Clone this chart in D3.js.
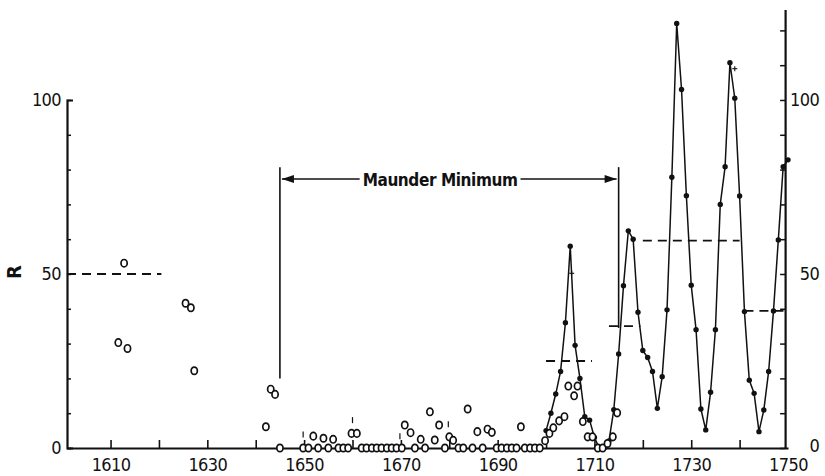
<!DOCTYPE html>
<html>
<head>
<meta charset="utf-8">
<script src="https://cdn.jsdelivr.net/npm/d3@7"></script>
<style>
  body { margin: 0; background: #fff; }
  svg text { font-family: "Liberation Sans Narrow", "DejaVu Sans Condensed", "Arial Narrow", sans-serif; fill: #111; }
  .axis path, .axis line { stroke: #111; }
  .axis text { letter-spacing: -0.6px; }
</style>
</head>
<body>
<svg id="chart"></svg>
<script>
// Sunspot number R, 1610-1750 (telescopic era, after Eddy 1976)

// scattered early observations (open circles)
const obsYears = [1611.6, 1612.8, 1613.5, 1625.5, 1626.6, 1627.3, 1642.1, 1643.1, 1644.0, 1645.0,
  1649.8, 1650.9, 1651.9, 1652.9, 1654.0, 1655.0, 1656.0, 1657.1, 1658.1, 1659.1, 1659.8, 1660.9,
  1661.9, 1662.9, 1664.0, 1665.0, 1666.0, 1667.1, 1668.1, 1669.1, 1670.2, 1670.8, 1672.0, 1672.9,
  1674.1, 1675.0, 1676.0, 1677.0, 1677.9, 1679.1, 1680.0, 1680.8, 1681.9, 1682.9, 1683.8, 1684.8,
  1685.8, 1686.9, 1687.9, 1688.8, 1689.8, 1690.8, 1691.9, 1692.9, 1693.9, 1694.8, 1695.6, 1696.7,
  1697.7, 1698.7,
  1699.8, 1700.7, 1701.5, 1702.7, 1703.8, 1704.6, 1705.8, 1706.5, 1707.6, 1708.6, 1709.6, 1710.7,
  1711.7, 1712.7, 1713.8, 1714.7];
const obsR = [30.3, 53.1, 28.6, 41.6, 40.3, 22.2, 6.1, 16.9, 15.4, 0,
  0, 0, 3.4, 0, 2.8, 0, 2.5, 0, 0, 0, 4.2, 4.2,
  0, 0, 0, 0, 0, 0, 0, 0, 0, 6.6, 4.4, 0,
  2.5, 0, 10.4, 2.3, 6.6, 0, 3.2, 2.2, 0, 0, 11.2, 0,
  4.7, 0, 5.4, 4.5, 0, 0, 0, 0, 0, 6.1, 0, 0,
  0, 0,
  2.1, 4.2, 5.8, 7.8, 9, 17.8, 15, 17.8, 7.6, 3.2, 3.2, 0,
  0, 1.3, 3.2, 10.1];

// annual means 1700-1750 (filled dots joined by a line)
const annualYears = [1700, 1701, 1702, 1703, 1704, 1705, 1706, 1707, 1708, 1709,
  1710, 1711, 1712, 1713, 1714, 1715, 1716, 1717, 1718, 1719,
  1720, 1721, 1722, 1723, 1724, 1725, 1726, 1727, 1728, 1729,
  1730, 1731, 1732, 1733, 1734, 1735, 1736, 1737, 1738, 1739,
  1740, 1741, 1742, 1743, 1744, 1745, 1746, 1747, 1748, 1749, 1750];
const annualR = [5, 10, 15.5, 22, 36, 58, 29.5, 20, 9, 8,
  3, 0, 0, 2, 11, 27, 46.6, 62.4, 60, 39,
  28, 26, 22, 11.4, 20.5, 39.7, 77.8, 122, 103, 72.5,
  46.8, 34, 11.2, 5.2, 16, 34, 70, 80.8, 110.7, 100.5,
  72.4, 39.2, 19.5, 15.7, 4.7, 10.9, 22, 39.4, 59.8, 80.8, 82.8];

// cycle means (dashed levels)
const meanStart = [1601, 1700, 1713, 1720, 1741];
const meanEnd   = [1620.5, 1709.5, 1719.5, 1740, 1750];
const meanR     = [50, 25, 35, 59.6, 39.4];

// little marks on the plot
const crossYears = [1705.3, 1739];
const crossR = [50.2, 109];
const barYears = [1649.8, 1660, 1669.8, 1679.8];
const barR = [3.9, 8, 3.4, 6.8];

// Maunder Minimum bracket
const maunderStart = 1645;
const maunderEnd = 1715;
const maunderTop = 80.7;
const maunderArrowR = 77.3;
const maunderLeftFoot = 20;
const maunderRightFoot = 34.5;
const maunderLabel = 'Maunder Minimum';

const xTickValues = [1610, 1620, 1630, 1640, 1650, 1660, 1670, 1680, 1690, 1700, 1710, 1720, 1730, 1740];
const xTickLabels = [1610, 1630, 1650, 1670, 1690, 1710, 1730, 1750];
const yTickLabels = [0, 50, 100];
const yMinorLeft = [0, 10, 20, 30, 40, 50, 60, 70, 80, 90, 100];
const yMinorRight = [0, 10, 20, 30, 40, 50, 60, 70, 80, 90, 100, 110, 120];

const config = {
  width: 825,
  height: 476,
  left: 67,
  right: 788,
  bottom: 448,
  top: 9.5,
  rightAxisYear: 1749.4
};

const svg = d3.select('#chart')
  .attr('width', config.width)
  .attr('height', config.height);

svg.append('rect')
  .attr('width', config.width)
  .attr('height', config.height)
  .attr('fill', '#fff');

const x = d3.scaleLinear().domain([1601, 1750]).range([config.left, config.right]);
const y = d3.scaleLinear().domain([0, 126]).range([config.bottom, config.top]);
const yLeft = d3.scaleLinear().domain([0, 100]).range([y(0), y(100)]);

// --- axes ---
const xAxisG = svg.append('g')
  .attr('class', 'axis')
  .attr('transform', `translate(0,${config.bottom})`)
  .call(d3.axisBottom(x)
    .tickValues(xTickValues.concat([1750]))
    .tickSize(-8)
    .tickSizeOuter(0)
    .tickPadding(10)
    .tickFormat(d => xTickLabels.includes(d) ? d : ''));
xAxisG.select('.domain').attr('stroke-width', 2.2);
xAxisG.selectAll('.tick line').attr('stroke-width', 1.6);
// 1750 tick sits on the right axis, no need for the little line
xAxisG.selectAll('.tick').filter(d => d === 1750).select('line').remove();
xAxisG.selectAll('text').style('font-size', '18px');

// left axis: ticks point inward, labels only at 0/50/100
const yAxisLeftG = svg.append('g')
  .attr('class', 'axis')
  .attr('transform', `translate(${config.left},0)`)
  .call(d3.axisLeft(yLeft)
    .tickValues(yMinorLeft)
    .tickSize(-4)
    .tickSizeOuter(-6)
    .tickPadding(6)
    .tickFormat(d => yTickLabels.includes(d) ? d : ''));
yAxisLeftG.select('.domain').attr('stroke-width', 2.2).attr('fill', 'none');
yAxisLeftG.selectAll('.tick line').attr('stroke-width', 1.5);
yAxisLeftG.selectAll('text').style('font-size', '18px');

// right axis goes higher than the left one
const xRight = x(config.rightAxisYear);
const yAxisRightG = svg.append('g')
  .attr('class', 'axis')
  .attr('transform', `translate(${xRight},0)`)
  .call(d3.axisRight(y)
    .tickValues(yMinorRight)
    .tickSize(-5)
    .tickSizeOuter(0)
    .tickFormat(d => yTickLabels.includes(d) ? d : ''));
yAxisRightG.select('.domain').attr('stroke-width', 2.2);
yAxisRightG.selectAll('.tick line').attr('stroke-width', 1.5);
yAxisRightG.selectAll('text')
  .attr('x', 34)
  .attr('dy', d => d === 0 ? '0.2em' : '0.32em')
  .attr('text-anchor', 'end')
  .style('font-size', '18px');

svg.append('text')
  .attr('transform', `translate(21,${y(50) - 2}) rotate(-90)`)
  .attr('text-anchor', 'middle')
  .style('font-size', '20px')
  .style('font-weight', 'bold')
  .text('R');

// --- cycle mean levels ---
svg.append('g').selectAll('line')
  .data(meanR)
  .join('line')
  .attr('x1', (d, i) => x(meanStart[i]))
  .attr('x2', (d, i) => x(meanEnd[i]))
  .attr('y1', d => y(d))
  .attr('y2', d => y(d))
  .attr('stroke', '#111')
  .attr('stroke-width', 1.8)
  .attr('stroke-dasharray', '9,6');

// --- Maunder Minimum bracket ---
const mm = svg.append('g').attr('stroke', '#111');
mm.append('line')
  .attr('x1', x(maunderStart)).attr('x2', x(maunderStart))
  .attr('y1', y(maunderTop)).attr('y2', y(maunderLeftFoot))
  .attr('stroke-width', 1.6);
mm.append('line')
  .attr('x1', x(maunderEnd)).attr('x2', x(maunderEnd))
  .attr('y1', y(maunderTop)).attr('y2', y(maunderRightFoot))
  .attr('stroke-width', 1.6);

const mmText = svg.append('text')
  .attr('x', x(1678.1))
  .attr('y', y(maunderArrowR) + 7)
  .attr('text-anchor', 'middle')
  .style('font-size', '17px')
  .style('letter-spacing', '-0.4px')
  .style('font-weight', 'bold')
  .text(maunderLabel);
const tb = mmText.node().getBBox();
const ay = y(maunderArrowR);
const ax1 = x(maunderStart) + 2;
const ax2 = x(maunderEnd) - 2;
mm.append('line')
  .attr('x1', ax1).attr('x2', tb.x - 3)
  .attr('y1', ay).attr('y2', ay)
  .attr('stroke-width', 1.3);
mm.append('line')
  .attr('x1', tb.x + tb.width + 3).attr('x2', ax2)
  .attr('y1', ay).attr('y2', ay)
  .attr('stroke-width', 1.3);
mm.append('path')
  .attr('d', `M${ax1},${ay} l12,-4 l0,8 Z`)
  .attr('fill', '#111').attr('stroke', 'none');
mm.append('path')
  .attr('d', `M${ax2},${ay} l-12,-4 l0,8 Z`)
  .attr('fill', '#111').attr('stroke', 'none');

// --- annual series ---
const line = d3.line()
  .x((d, i) => x(annualYears[i]))
  .y(d => y(d));

svg.append('path')
  .datum(annualR)
  .attr('d', line)
  .attr('fill', 'none')
  .attr('stroke', '#111')
  .attr('stroke-width', 1.5)
  .attr('stroke-linejoin', 'round');

svg.append('g').selectAll('circle')
  .data(annualR)
  .join('circle')
  .attr('cx', (d, i) => x(annualYears[i]))
  .attr('cy', d => y(d))
  .attr('r', 2.7)
  .attr('fill', '#111');

// --- scattered observations ---
svg.append('g').selectAll('ellipse')
  .data(obsR)
  .join('ellipse')
  .attr('cx', (d, i) => x(obsYears[i]))
  .attr('cy', d => y(d))
  .attr('rx', 3.1)
  .attr('ry', 3.7)
  .attr('fill', '#fff')
  .attr('stroke', '#111')
  .attr('stroke-width', 1.7);

// small marks
svg.append('g').selectAll('line')
  .data(barR)
  .join('line')
  .attr('x1', (d, i) => x(barYears[i]))
  .attr('x2', (d, i) => x(barYears[i]))
  .attr('y1', d => y(d) - 3)
  .attr('y2', d => y(d) + 3)
  .attr('stroke', '#111')
  .attr('stroke-width', 1.2);

const crosses = svg.append('g').attr('stroke', '#111').attr('stroke-width', 1.1);
crossR.forEach((r, i) => {
  const cx = x(crossYears[i]), cy = y(r);
  crosses.append('line').attr('x1', cx - 2.5).attr('x2', cx + 2.5).attr('y1', cy).attr('y2', cy);
  crosses.append('line').attr('x1', cx).attr('x2', cx).attr('y1', cy - 2.5).attr('y2', cy + 2.5);
});
</script>
</body>
</html>
